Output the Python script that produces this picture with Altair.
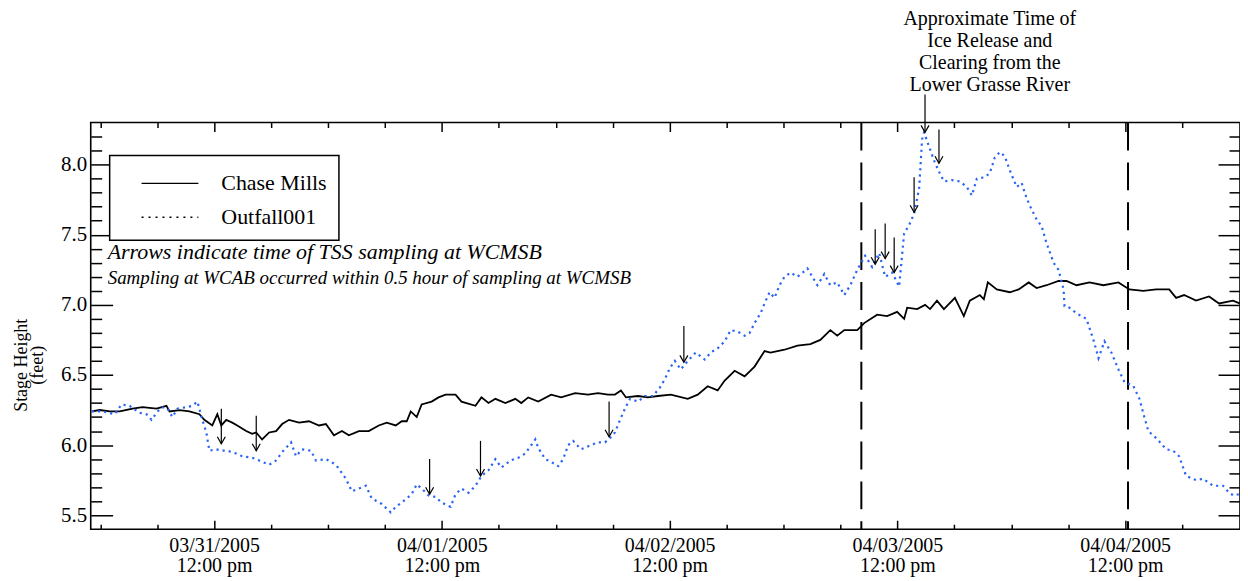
import altair as alt
import pandas as pd

FONT = "Liberation Serif"
BLUE = "#2a64f5"

# ---- data (hours since 03/31/2005 00:00, stage height in feet) ----
CHASE_HOURS = [-0.89, -0.05, 1.00, 2.05, 3.41, 4.46, 5.93, 6.98, 7.30, 8.35, 9.40, 10.45, 10.97, 11.81,
               12.34, 12.76, 13.28, 13.91, 14.44, 15.38, 16.01, 16.43, 17.06, 17.80, 18.53, 19.17, 19.90,
               20.95, 22.00, 23.05, 23.78, 24.63, 25.47, 26.20, 27.25, 28.30, 29.35, 30.19, 31.14, 31.77,
               32.30, 32.72, 33.35, 33.87, 34.92, 35.65, 36.39, 37.44, 38.07, 39.54, 40.17, 40.91, 41.64,
               42.69, 43.74, 44.37, 45.10, 46.15, 47.52, 48.57, 50.04, 51.40, 52.45, 53.50, 54.24, 54.87,
               55.40, 56.66, 57.71, 58.76, 60.13, 61.91, 62.96, 64.01, 65.06, 65.80, 66.85, 67.90, 68.95,
               70.00, 70.63, 72.10, 73.47, 74.83, 75.88, 76.93, 77.66, 78.40, 79.77, 80.50, 81.87, 82.92,
               83.97, 84.71, 85.03, 86.08, 86.92, 87.44, 88.17, 88.90, 90.06, 91.00, 91.63, 92.69, 93.11,
               93.53, 94.47, 95.84, 96.78, 97.83, 98.67, 99.72, 100.98, 101.82, 102.87, 104.24, 105.71,
               107.29, 108.44, 109.91, 111.27, 112.64, 113.37, 114.21, 115.47, 116.84, 117.89, 119.36, 120.07]
CHASE_FEET = [6.24, 6.25, 6.24, 6.24, 6.26, 6.27, 6.26, 6.28, 6.24, 6.25, 6.24, 6.22, 6.18, 6.14,
              6.22, 6.14, 6.18, 6.16, 6.14, 6.10, 6.08, 6.09, 6.04, 6.09, 6.10, 6.15, 6.18,
              6.16, 6.17, 6.14, 6.15, 6.07, 6.10, 6.07, 6.10, 6.10, 6.14, 6.16, 6.14, 6.17,
              6.17, 6.24, 6.20, 6.29, 6.31, 6.34, 6.36, 6.36, 6.31, 6.28, 6.34, 6.30, 6.33,
              6.30, 6.33, 6.30, 6.34, 6.31, 6.36, 6.34, 6.37, 6.36, 6.37, 6.36, 6.36, 6.39,
              6.34, 6.35, 6.34, 6.35, 6.36, 6.33, 6.36, 6.42, 6.39, 6.46, 6.53, 6.49, 6.56,
              6.67, 6.66, 6.68, 6.71, 6.72, 6.75, 6.82, 6.78, 6.82, 6.82, 6.87, 6.93, 6.92,
              6.95, 6.90, 6.98, 6.97, 7.00, 6.97, 7.03, 6.97, 7.05, 6.92, 7.03, 7.07, 7.04,
              7.16, 7.11, 7.09, 7.11, 7.16, 7.12, 7.14, 7.17, 7.17, 7.14, 7.16, 7.14,
              7.16, 7.11, 7.10, 7.11, 7.11, 7.05, 7.07, 7.03, 7.06, 7.01, 7.03, 7.01]

OUTFALL_HOURS = [-0.89, 0.26, 1.52, 2.26, 3.10, 4.15, 4.88, 5.41, 5.93, 6.46, 7.09, 7.61, 8.14, 9.08, 9.71,
                 10.24, 10.76, 11.18, 11.50, 12.23, 12.86, 13.39, 14.33, 14.96, 16.01, 16.75, 17.80, 18.53,
                 19.17, 20.11, 20.63, 21.26, 22.21, 22.73, 23.78, 24.84, 25.89, 26.52, 27.25, 27.99, 28.61,
                 29.67, 30.61, 31.14, 31.77, 32.82, 33.35, 33.87, 34.61, 35.34, 35.97, 36.92, 37.44, 38.07,
                 38.81, 39.54, 40.17, 40.91, 41.64, 42.27, 43.22, 44.06, 44.79, 45.42, 45.84, 46.15, 46.89,
                 47.52, 48.26, 48.78, 49.31, 49.83, 50.67, 51.72, 52.45, 53.19, 53.72, 54.24, 54.77, 55.29,
                 55.82, 56.66, 57.40, 58.24, 58.97, 59.50, 60.03, 60.55, 61.18, 61.91, 62.75, 63.70, 64.33,
                 65.06, 65.80, 66.43, 67.16, 67.90, 68.43, 68.95, 69.58, 70.00, 70.53, 71.05, 71.58, 72.10,
                 72.74, 73.47, 74.20, 74.52, 75.04, 75.57, 76.30, 76.93, 77.66, 78.40, 79.04, 79.77, 80.60,
                 81.34, 82.08, 82.71, 83.45, 84.18, 84.71, 85.24, 85.76, 86.29, 86.60, 86.81, 87.33, 87.86,
                 88.38, 88.90, 89.75, 90.59, 91.32, 91.85, 92.37, 93.21, 93.74, 94.26, 94.79, 95.31, 95.84,
                 96.57, 97.09, 97.62, 98.14, 98.67, 99.20, 99.72, 100.46, 100.98, 101.51, 101.61, 102.14,
                 102.87, 103.92, 104.66, 105.19, 105.82, 106.55, 107.29, 107.92, 108.87, 109.50, 110.02,
                 110.44, 111.27, 112.33, 113.06, 113.69, 114.42, 115.47, 116.21, 117.26, 118.31, 118.94,
                 119.46, 119.99]
OUTFALL_FEET = [6.24, 6.24, 6.22, 6.29, 6.28, 6.23, 6.22, 6.18, 6.23, 6.27, 6.26, 6.20, 6.26, 6.27, 6.28,
                6.31, 6.18, 6.09, 5.96, 5.97, 5.96, 5.96, 5.94, 5.92, 5.91, 5.89, 5.86, 5.89,
                5.95, 6.02, 5.92, 5.97, 5.96, 5.89, 5.90, 5.86, 5.76, 5.67, 5.69, 5.71, 5.62,
                5.58, 5.52, 5.56, 5.59, 5.65, 5.72, 5.69, 5.64, 5.63, 5.59, 5.56, 5.65, 5.69,
                5.66, 5.71, 5.78, 5.82, 5.90, 5.84, 5.89, 5.91, 5.94, 6.00, 6.04, 5.98, 5.90,
                5.88, 5.85, 5.90, 6.00, 6.03, 5.97, 6.00, 6.02, 6.02, 6.05, 6.09, 6.18, 6.26,
                6.33, 6.31, 6.35, 6.35, 6.41, 6.47, 6.55, 6.60, 6.54, 6.60, 6.66, 6.61, 6.66,
                6.69, 6.74, 6.82, 6.81, 6.78, 6.80, 6.87, 6.94, 7.01, 7.09, 7.05, 7.14, 7.20,
                7.23, 7.20, 7.24, 7.26, 7.20, 7.14, 7.22, 7.14, 7.16, 7.07, 7.14, 7.25, 7.35,
                7.27, 7.37, 7.20, 7.23, 7.13, 7.51, 7.57, 7.65, 7.83, 8.18, 8.23, 8.13, 8.03,
                7.95, 7.88, 7.89, 7.88, 7.84, 7.78, 7.90, 7.91, 7.94, 8.05, 8.09, 8.06, 7.96,
                7.84, 7.87, 7.76, 7.68, 7.61, 7.56, 7.44, 7.30, 7.25, 7.11, 6.99, 6.98,
                6.94, 6.90, 6.75, 6.62, 6.74, 6.66, 6.54, 6.45, 6.42, 6.33, 6.20,
                6.10, 6.05, 5.97, 5.96, 5.92, 5.78, 5.75, 5.76, 5.71, 5.71, 5.66,
                5.64, 5.65]

# TSS sampling arrows: time, top of shaft, tip (feet)
ARROW_HOURS = [12.76, 16.44, 34.71, 40.07, 53.62, 61.50, 81.66, 82.71, 83.66, 85.76, 86.91, 88.38]
ARROW_TOP = [6.26, 6.21, 5.90, 6.03, 6.31, 6.85, 7.54, 7.58, 7.48, 7.91, 8.50, 8.25]
ARROW_TIP = [6.01, 5.96, 5.65, 5.78, 6.06, 6.59, 7.29, 7.33, 7.23, 7.66, 8.23, 8.01]

EVENT_HOURS = [80.2, 108.3]

TICK_HOURS = [12, 36, 60, 84, 108]
TICK_DATES = ["03/31/2005", "04/01/2005", "04/02/2005", "04/03/2005", "04/04/2005"]
TICK_TIME = "12:00 pm"
MINOR_HOURS = [0, 6, 18, 24, 30, 42, 48, 54, 66, 72, 78, 90, 96, 102, 114]
Y_MAJOR = [5.5, 6.0, 6.5, 7.0, 7.5, 8.0]
Y_MINOR = [5.6, 5.7, 5.8, 5.9, 6.1, 6.2, 6.3, 6.4, 6.6, 6.7, 6.8, 6.9, 7.1, 7.2, 7.3, 7.4,
           7.6, 7.7, 7.8, 7.9, 8.1, 8.2]

LEGEND_LABELS = ["Chase Mills", "Outfall001"]
NOTE_1 = "Arrows indicate time of TSS sampling at WCMSB"
NOTE_2 = "Sampling at WCAB occurred within 0.5 hour of sampling at WCMSB"
ICE_TEXT = ["Approximate Time of", "Ice Release and", "Clearing from the", "Lower Grasse River"]

W, H = 1153, 408
X_DOMAIN = [-1.0, 120.1]
Y_DOMAIN = [5.4, 8.3]

chase_df = pd.DataFrame({"hours": CHASE_HOURS, "feet": CHASE_FEET})
out_df = pd.DataFrame({"hours": OUTFALL_HOURS, "feet": OUTFALL_FEET})
arrow_df = pd.DataFrame({"hours": ARROW_HOURS, "top": ARROW_TOP, "tip": ARROW_TIP})
event_df = pd.DataFrame({"hours": EVENT_HOURS})
one = pd.DataFrame({"k": [0]})

xs = alt.Scale(domain=X_DOMAIN, nice=False, zero=False)
ys = alt.Scale(domain=Y_DOMAIN, nice=False, zero=False)

label_expr = "[" + " : ".join(
    f"datum.value == {h} ? '{d}'" for h, d in zip(TICK_HOURS, TICK_DATES)
) + f" : '', '{TICK_TIME}']"


def tick_axis(orient, values, size, offset):
    return alt.Axis(orient=orient, offset=offset, values=values, labels=False, domain=False,
                    grid=False, tickSize=size, tickWidth=1.5, tickColor="black", title=None)


x_label_axis = alt.Axis(orient="bottom", values=TICK_HOURS, ticks=False, domain=False, grid=False,
                        labelExpr=label_expr, labelFont=FONT, labelFontSize=20, labelColor="black",
                        labelPadding=6, labelLineHeight=20, labelOverlap=False, labelFlush=False,
                        title=None)
y_label_axis = alt.Axis(orient="left", values=Y_MAJOR, ticks=False, domain=False, grid=False,
                        format=".1f", labelFont=FONT, labelFontSize=21, labelColor="black",
                        labelPadding=4, title=["Stage Height", "(feet)"], titleFont=FONT,
                        titleFontSize=18, titleFontWeight="normal", titleColor="black",
                        titleAngle=270, titleX=-69, titleY=243, titleAlign="center",
                        titleBaseline="middle", titleLineHeight=16)

chase = alt.Chart(chase_df).mark_line(color="black", strokeWidth=1.8).encode(
    x=alt.X("hours:Q", scale=xs, axis=x_label_axis),
    y=alt.Y("feet:Q", scale=ys, axis=y_label_axis),
)
outfall = alt.Chart(out_df).mark_line(color=BLUE, strokeWidth=2.2, strokeDash=[2.2, 4]).encode(
    x=alt.X("hours:Q", scale=xs, axis=tick_axis("top", TICK_HOURS, 9, -H)),
    y=alt.Y("feet:Q", scale=ys, axis=tick_axis("right", Y_MAJOR, 22, -W)),
)
events = alt.Chart(event_df).mark_rule(color="black", strokeWidth=2, strokeDash=[28, 12]).encode(
    x=alt.X("hours:Q", scale=xs, axis=tick_axis("top", MINOR_HOURS, 5, -H)),
)
arrows = alt.Chart(arrow_df).mark_rule(color="black", strokeWidth=1.2).encode(
    x=alt.X("hours:Q", scale=xs, axis=tick_axis("bottom", TICK_HOURS, 9, -H)),
    y=alt.Y("top:Q", scale=ys, axis=tick_axis("right", Y_MINOR, 11, -W)),
    y2="tip:Q",
)
heads = alt.Chart(arrow_df).mark_point(shape="M-0.8,-1.4L0,0L0.8,-1.4", size=100, filled=False,
                                       color="black", strokeWidth=1.2, opacity=1).encode(
    x=alt.X("hours:Q", scale=xs, axis=tick_axis("bottom", MINOR_HOURS, 5, -H)),
    y=alt.Y("tip:Q", scale=ys, axis=tick_axis("left", Y_MAJOR, 22, -W)),
)
helper = alt.Chart(chase_df).mark_point(opacity=0).encode(
    x=alt.X("hours:Q", scale=xs, axis=None),
    y=alt.Y("feet:Q", scale=ys, axis=tick_axis("left", Y_MINOR, 11, -W)),
)

legend_box = alt.Chart(one).mark_rect(fill="white", stroke="black", strokeWidth=1.5).encode(
    x=alt.value(19), x2=alt.value(249), y=alt.value(33), y2=alt.value(118))
leg_line1 = alt.Chart(one).mark_rule(color="black", strokeWidth=1.3).encode(
    x=alt.value(51), x2=alt.value(108), y=alt.value(61))
leg_line2 = alt.Chart(one).mark_rule(color="black", strokeWidth=1.3, strokeDash=[2, 5]).encode(
    x=alt.value(51), x2=alt.value(108), y=alt.value(95))
leg_text1 = alt.Chart(one).mark_text(text=LEGEND_LABELS[0], font=FONT, fontSize=22, align="left",
                                     baseline="middle", color="black").encode(
    x=alt.value(131), y=alt.value(61))
leg_text2 = alt.Chart(one).mark_text(text=LEGEND_LABELS[1], font=FONT, fontSize=22, align="left",
                                     baseline="middle", color="black").encode(
    x=alt.value(131), y=alt.value(95))
note1 = alt.Chart(one).mark_text(text=NOTE_1, font=FONT, fontSize=22, fontStyle="italic",
                                 align="left", baseline="middle", color="black").encode(
    x=alt.value(17), y=alt.value(130))
note2 = alt.Chart(one).mark_text(text=NOTE_2, font=FONT, fontSize=19, fontStyle="italic",
                                 align="left", baseline="middle", color="black").encode(
    x=alt.value(17), y=alt.value(156))
ice = alt.Chart(one).mark_text(text=ICE_TEXT, font=FONT, fontSize=20, align="center",
                               baseline="alphabetic", lineHeight=22, color="black").encode(
    x=alt.value(902), y=alt.value(-98))

chart = alt.layer(
    events, chase, outfall, arrows, heads, helper,
    legend_box, leg_line1, leg_line2, leg_text1, leg_text2, note1, note2, ice,
).resolve_scale(x="shared", y="shared").resolve_axis(x="independent", y="independent").properties(
    width=W, height=H, autosize="none",
    padding={"left": 83, "top": 114, "right": 0, "bottom": 47},
    background="white",
).configure_view(stroke="black", strokeWidth=1.6)

chart.save("out.html", embed_options={"renderer": "svg", "actions": False})
